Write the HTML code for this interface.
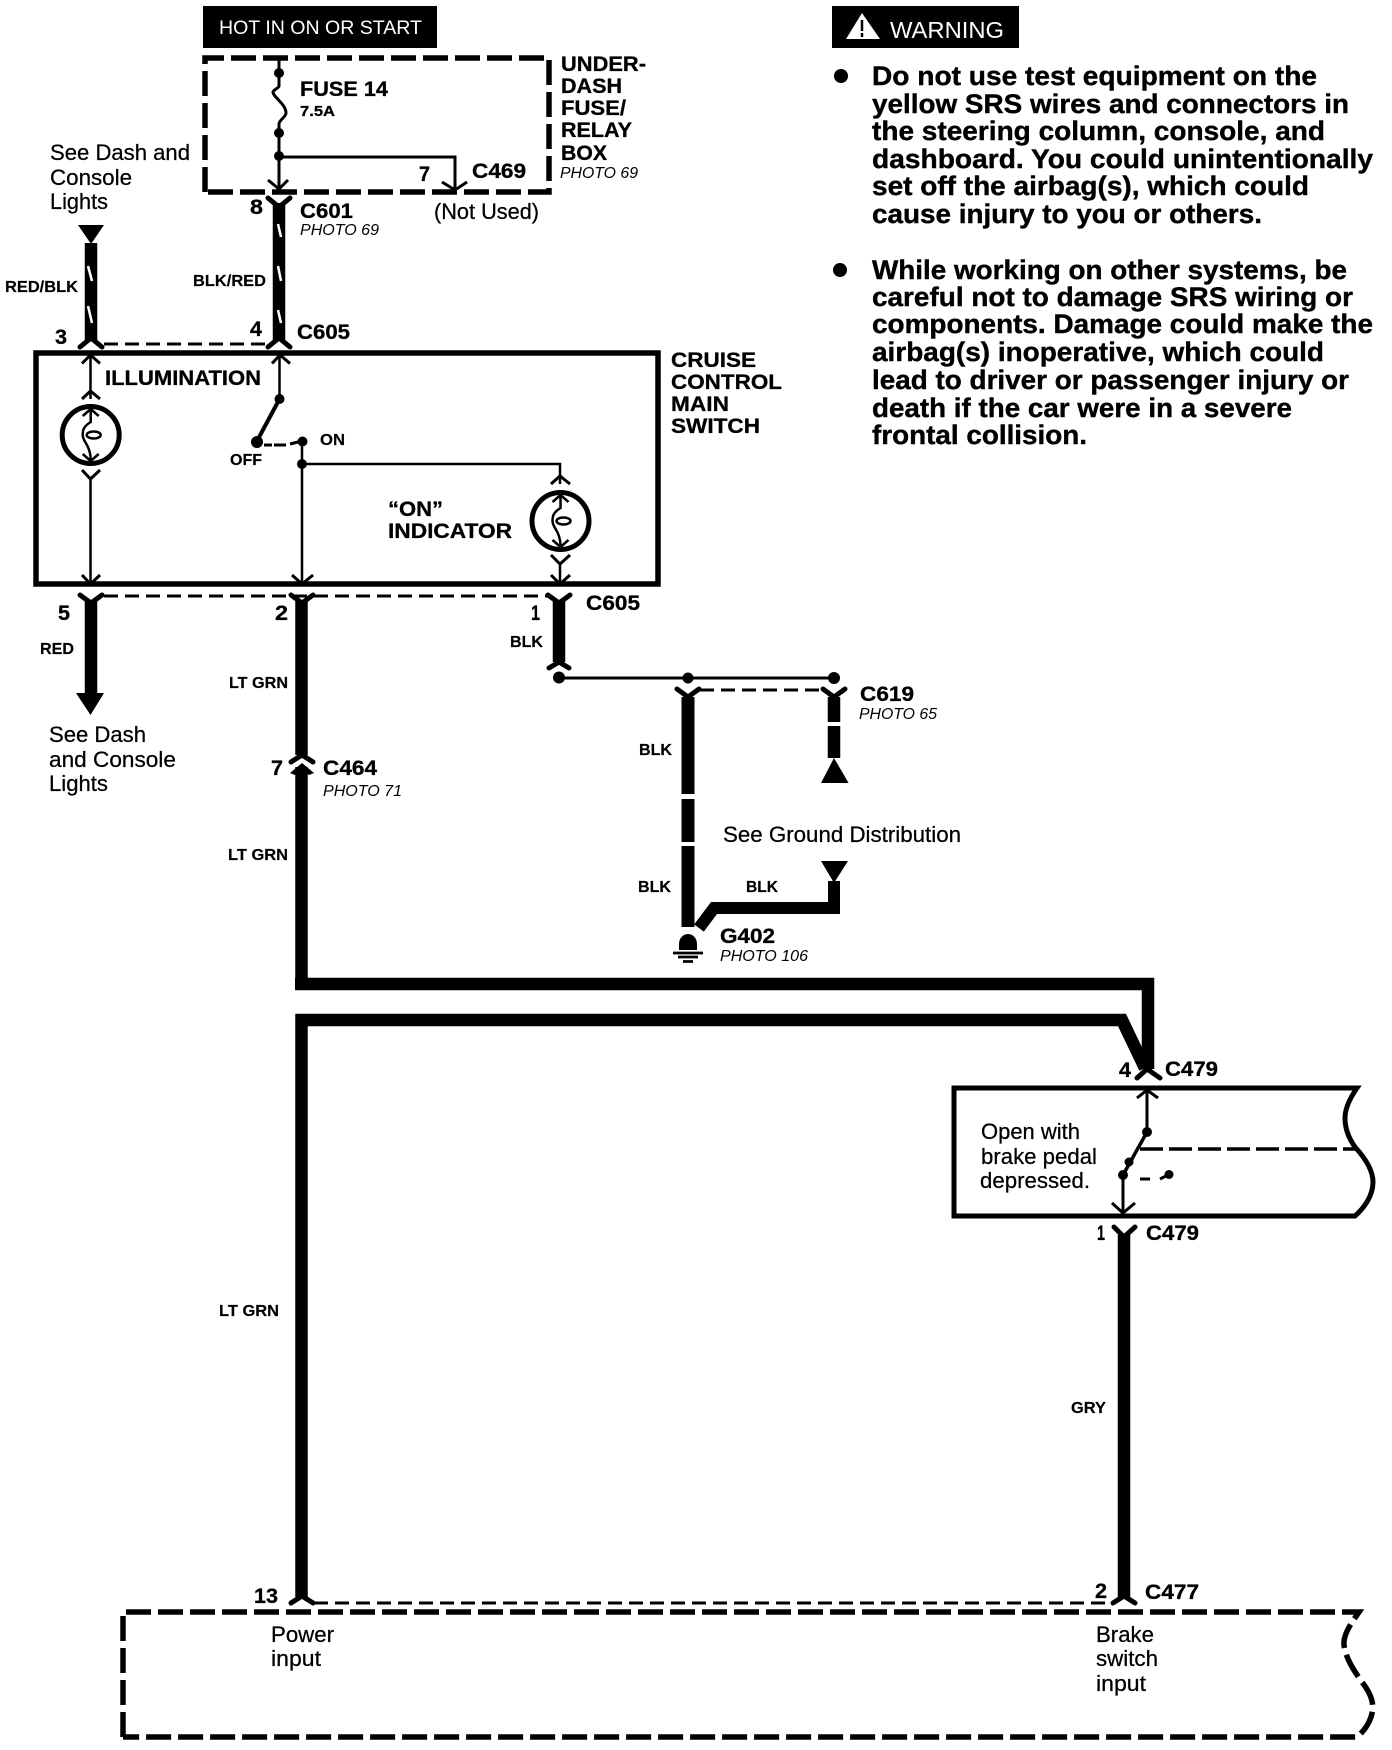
<!DOCTYPE html>
<html><head><meta charset="utf-8"><style>
html,body{margin:0;padding:0;background:#fff}
svg{display:block}
text{fill:#000;font-family:"Liberation Sans",sans-serif}
.b{font-weight:bold;font-size:21px;stroke:#000;stroke-width:.3px}
.w{font-weight:bold;font-size:16px;stroke:#000;stroke-width:.2px}
.t{font-weight:bold;font-size:27px;stroke:#000;stroke-width:.4px}
.r{font-size:22px;stroke:#000;stroke-width:.25px}
.i{font-style:italic;font-size:16px}
.c{fill:none;stroke:#000;stroke-width:3}
.y{fill:none;stroke:#000;stroke-width:5;stroke-linecap:round}
.n{fill:none;stroke:#000;stroke-width:2.5}
.h{fill:none;stroke:#000;stroke-width:12.5}
.s{stroke:#fff;stroke-width:2.5}
.d{fill:none;stroke:#000;stroke-width:5.5;stroke-dasharray:25 7}
.e{fill:none;stroke:#000;stroke-width:3;stroke-dasharray:14 7}
</style></head><body>
<svg xmlns="http://www.w3.org/2000/svg" width="1392" height="1750" viewBox="0 0 1392 1750">
<defs>
<g id="bulb">
<circle r="28.5" fill="#fff" stroke="#000" stroke-width="5"/>
<path class="n" d="M0 -26V-13C-8 -8 -8 -4 -8 0C-8 7 0 10 0 26"/>
<ellipse cx="3" cy="0" rx="7" ry="3.5" class="n"/>
<path class="n" d="M-8 -19L0 -26L8 -19M-8 19L0 26L8 19"/>
</g>
</defs>

<!-- header boxes -->
<rect x="203" y="6" width="234" height="42" fill="#000"/>
<text x="219" y="34" font-size="19" style="fill:#fff" textLength="203" lengthAdjust="spacingAndGlyphs">HOT IN ON OR START</text>
<rect x="832" y="6" width="187" height="42" fill="#000"/>
<path d="M862 13L846 39H880Z" fill="#fff"/>
<path d="M862 20V31M862 33V37" stroke="#000" stroke-width="2.5"/>
<text x="890" y="38" font-size="23" style="fill:#fff" textLength="114" lengthAdjust="spacingAndGlyphs">WARNING</text>

<!-- warning text -->
<circle cx="841" cy="76" r="7"/>
<circle cx="840" cy="270" r="7"/>
<text class="t" x="872" y="85" textLength="445" lengthAdjust="spacingAndGlyphs">Do not use test equipment on the</text>
<text class="t" x="872" y="113" textLength="477" lengthAdjust="spacingAndGlyphs">yellow SRS wires and connectors in</text>
<text class="t" x="872" y="140" textLength="453" lengthAdjust="spacingAndGlyphs">the steering column, console, and</text>
<text class="t" x="872" y="168" textLength="501" lengthAdjust="spacingAndGlyphs">dashboard. You could unintentionally</text>
<text class="t" x="872" y="195" textLength="437" lengthAdjust="spacingAndGlyphs">set off the airbag(s), which could</text>
<text class="t" x="872" y="223" textLength="390" lengthAdjust="spacingAndGlyphs">cause injury to you or others.</text>
<text class="t" x="872" y="279" textLength="475" lengthAdjust="spacingAndGlyphs">While working on other systems, be</text>
<text class="t" x="872" y="306" textLength="481" lengthAdjust="spacingAndGlyphs">careful not to damage SRS wiring or</text>
<text class="t" x="872" y="333" textLength="501" lengthAdjust="spacingAndGlyphs">components. Damage could make the</text>
<text class="t" x="872" y="361" textLength="452" lengthAdjust="spacingAndGlyphs">airbag(s) inoperative, which could</text>
<text class="t" x="872" y="389" textLength="477" lengthAdjust="spacingAndGlyphs">lead to driver or passenger injury or</text>
<text class="t" x="872" y="417" textLength="420" lengthAdjust="spacingAndGlyphs">death if the car were in a severe</text>
<text class="t" x="872" y="444" textLength="215" lengthAdjust="spacingAndGlyphs">frontal collision.</text>

<!-- under-dash fuse box -->
<path class="d" d="M205 192V58H549V192H205"/>
<path class="c" d="M279 57V73"/>
<path class="c" d="M279 73V86C279 88 273 90 273 92C273 97 286 104 286 113C286 117 279 120 279 124V187"/>
<circle cx="279" cy="73" r="5"/><circle cx="279" cy="133" r="5"/><circle cx="279" cy="156" r="5"/>
<path class="c" d="M279 157H455V188"/>
<path class="c" d="M268 180L279 189L288 180M442 182L455 190L467 182"/>
<text class="b" x="300" y="96" textLength="88" lengthAdjust="spacingAndGlyphs">FUSE 14</text>
<text class="b" x="300" y="116" style="font-size:15px" textLength="35" lengthAdjust="spacingAndGlyphs">7.5A</text>
<text class="b" x="561" y="71" textLength="85" lengthAdjust="spacingAndGlyphs">UNDER-</text>
<text class="b" x="561" y="93" textLength="61" lengthAdjust="spacingAndGlyphs">DASH</text>
<text class="b" x="561" y="115" textLength="65" lengthAdjust="spacingAndGlyphs">FUSE/</text>
<text class="b" x="561" y="137" textLength="71" lengthAdjust="spacingAndGlyphs">RELAY</text>
<text class="b" x="561" y="160" textLength="46" lengthAdjust="spacingAndGlyphs">BOX</text>
<text class="i" x="560" y="178" textLength="78" lengthAdjust="spacingAndGlyphs">PHOTO 69</text>
<text class="b" x="472" y="178" textLength="54" lengthAdjust="spacingAndGlyphs">C469</text>
<text class="b" x="419" y="181" textLength="11" lengthAdjust="spacingAndGlyphs">7</text>
<text class="r" x="434" y="219" textLength="105" lengthAdjust="spacingAndGlyphs">(Not Used)</text>
<text class="b" x="250" y="214" textLength="13" lengthAdjust="spacingAndGlyphs">8</text>
<text class="b" x="300" y="218" textLength="53" lengthAdjust="spacingAndGlyphs">C601</text>
<text class="i" x="300" y="235" textLength="79" lengthAdjust="spacingAndGlyphs">PHOTO 69</text>
<text class="r" x="50" y="160" textLength="140" lengthAdjust="spacingAndGlyphs">See Dash and</text>
<text class="r" x="50" y="185" textLength="82" lengthAdjust="spacingAndGlyphs">Console</text>
<text class="r" x="50" y="209" textLength="58" lengthAdjust="spacingAndGlyphs">Lights</text>

<!-- upper connector wires -->
<path d="M78 225H104L91 244Z"/>
<path class="h" d="M91 243V341"/>
<path class="s" d="M88 266L92 281M88 306L92 323"/>
<path class="h" d="M279 203V341"/>
<path class="y" d="M268 198L279 207L290 198"/>
<path class="s" d="M278 224L281 237M278 266L281 281M278 310L281 323"/>
<path class="y" d="M80 347L91 338L102 347M268 347L279 338L290 347"/>
<path class="e" d="M104 344H268"/>
<text class="w" x="5" y="292" textLength="73" lengthAdjust="spacingAndGlyphs">RED/BLK</text>
<text class="w" x="193" y="286" textLength="73" lengthAdjust="spacingAndGlyphs">BLK/RED</text>
<text class="b" x="55" y="344" textLength="12" lengthAdjust="spacingAndGlyphs">3</text>
<text class="b" x="250" y="336" textLength="12" lengthAdjust="spacingAndGlyphs">4</text>
<text class="b" x="297" y="339" textLength="53" lengthAdjust="spacingAndGlyphs">C605</text>

<!-- main switch box -->
<rect x="36" y="353" width="622" height="231" fill="none" stroke="#000" stroke-width="5.5"/>
<path class="n" d="M90.5 356V399M90.5 479V583"/>
<path class="c" d="M82 363.5L90.5 355L100 363.5M82 399L90.5 391L100 399M82 470L90.5 479L100 470M82 575L90.5 584L100 575"/>
<use href="#bulb" x="90.7" y="435"/>
<path class="n" d="M279.5 356V399"/>
<path class="c" d="M272 363.5L280 355L290 363.5"/>
<circle cx="279.5" cy="399" r="5"/>
<path d="M279.5 399L257 441" stroke="#000" stroke-width="4"/>
<circle cx="257" cy="442" r="6"/>
<path d="M264 445L272 445M274 445H286M290 444L302 441" fill="none" stroke="#000" stroke-width="3"/>
<circle cx="302.5" cy="441.5" r="5"/>
<path class="n" d="M302 441V583"/>
<circle cx="302" cy="464" r="5"/>
<path class="n" d="M302 464H560V484"/>
<path class="c" d="M551 484L560 476L570 484M551 555L560 564L570 555M551 575L560 584L570 575"/>
<path class="n" d="M560 564V583"/>
<path class="c" d="M292 575L302 584L313 575"/>
<use href="#bulb" x="560.5" y="521"/>
<text class="b" x="105" y="385" textLength="156" lengthAdjust="spacingAndGlyphs">ILLUMINATION</text>
<text class="w" x="320" y="445" textLength="25" lengthAdjust="spacingAndGlyphs">ON</text>
<text class="w" x="230" y="465" textLength="32" lengthAdjust="spacingAndGlyphs">OFF</text>
<text class="b" x="388" y="516" textLength="55" lengthAdjust="spacingAndGlyphs">“ON”</text>
<text class="b" x="388" y="538" textLength="124" lengthAdjust="spacingAndGlyphs">INDICATOR</text>
<text class="b" x="671" y="367" textLength="85" lengthAdjust="spacingAndGlyphs">CRUISE</text>
<text class="b" x="671" y="389" textLength="111" lengthAdjust="spacingAndGlyphs">CONTROL</text>
<text class="b" x="671" y="411" textLength="58" lengthAdjust="spacingAndGlyphs">MAIN</text>
<text class="b" x="671" y="433" textLength="89" lengthAdjust="spacingAndGlyphs">SWITCH</text>

<!-- below switch box -->
<path class="e" d="M104 596H549"/>
<path class="y" d="M80 595L91 603L102 595M291 595L302 603L313 595M548 595L559 603L570 595"/>
<path class="h" d="M91 601V695"/>
<path d="M76 693H104L90.5 715Z"/>
<path class="h" d="M301.5 601V755"/>
<path class="h" d="M559 601V662"/>
<path class="y" d="M549 668L559 662L569 668M291 762L302 755L313 762"/>
<path d="M290 773L302 763L314 773L309 775L302 770L295 775Z"/>
<path class="h" d="M301.5 767V984M295 984H1148V1069"/>
<path class="h" d="M301.5 1597V1020H1122L1145 1068"/>
<text class="b" x="58" y="620" textLength="12" lengthAdjust="spacingAndGlyphs">5</text>
<text class="b" x="275" y="620" textLength="13" lengthAdjust="spacingAndGlyphs">2</text>
<text class="b" x="531" y="620" textLength="9" lengthAdjust="spacingAndGlyphs">1</text>
<text class="b" x="586" y="610" textLength="54" lengthAdjust="spacingAndGlyphs">C605</text>
<text class="w" x="40" y="654" textLength="34" lengthAdjust="spacingAndGlyphs">RED</text>
<text class="w" x="510" y="647" textLength="33" lengthAdjust="spacingAndGlyphs">BLK</text>
<text class="w" x="229" y="688" textLength="59" lengthAdjust="spacingAndGlyphs">LT GRN</text>
<text class="b" x="271" y="775" textLength="12" lengthAdjust="spacingAndGlyphs">7</text>
<text class="b" x="323" y="775" textLength="54" lengthAdjust="spacingAndGlyphs">C464</text>
<text class="i" x="323" y="796" textLength="79" lengthAdjust="spacingAndGlyphs">PHOTO 71</text>
<text class="w" x="228" y="860" textLength="60" lengthAdjust="spacingAndGlyphs">LT GRN</text>
<text class="w" x="219" y="1316" textLength="60" lengthAdjust="spacingAndGlyphs">LT GRN</text>
<text class="r" x="49" y="742" textLength="97" lengthAdjust="spacingAndGlyphs">See Dash</text>
<text class="r" x="49" y="767" textLength="127" lengthAdjust="spacingAndGlyphs">and Console</text>
<text class="r" x="49" y="791" textLength="59" lengthAdjust="spacingAndGlyphs">Lights</text>

<!-- ground branch -->
<circle cx="559" cy="677.5" r="6"/>
<path d="M559 678H834" stroke="#000" stroke-width="3"/>
<circle cx="688" cy="678" r="5.5"/><circle cx="834" cy="678" r="6"/>
<path class="y" d="M677 689L688 697L699 689M823 689L834 697L845 689"/>
<path class="e" d="M700 690H823"/>
<path d="M688 697V794M688 799V842M688 846V927" fill="none" stroke="#000" stroke-width="13"/>
<path d="M834 697V722M834 726V758" fill="none" stroke="#000" stroke-width="12.5"/>
<path d="M834 758L821 783H848.6Z"/>
<path d="M821 861H848L834 883Z"/>
<path d="M834 881V908H714L699 928" fill="none" stroke="#000" stroke-width="12"/>
<path d="M679 950V944A9 10 0 0 1 697 944V950Z"/>
<path d="M673 953H703M678 957H698M683 961.5H693" stroke="#000" stroke-width="2.8"/>
<text class="b" x="860" y="701" textLength="54" lengthAdjust="spacingAndGlyphs">C619</text>
<text class="i" x="859" y="719" textLength="78" lengthAdjust="spacingAndGlyphs">PHOTO 65</text>
<text class="r" x="723" y="842" textLength="238" lengthAdjust="spacingAndGlyphs">See Ground Distribution</text>
<text class="w" x="639" y="755" textLength="33" lengthAdjust="spacingAndGlyphs">BLK</text>
<text class="w" x="638" y="892" textLength="33" lengthAdjust="spacingAndGlyphs">BLK</text>
<text class="w" x="746" y="892" textLength="32" lengthAdjust="spacingAndGlyphs">BLK</text>
<text class="b" x="720" y="943" textLength="55" lengthAdjust="spacingAndGlyphs">G402</text>
<text class="i" x="720" y="961" textLength="88" lengthAdjust="spacingAndGlyphs">PHOTO 106</text>

<!-- brake switch -->
<path class="y" d="M1137 1078L1147 1069L1160 1078"/>
<text class="b" x="1119" y="1077" textLength="12" lengthAdjust="spacingAndGlyphs">4</text>
<text class="b" x="1165" y="1076" textLength="53" lengthAdjust="spacingAndGlyphs">C479</text>
<path d="M954 1088H1357C1350 1098 1345 1108 1345 1118C1345 1130 1350 1140 1355 1147C1365 1158 1373 1170 1373 1182C1373 1196 1364 1208 1355 1216H954Z" fill="none" stroke="#000" stroke-width="5"/>
<path class="n" d="M1147 1090V1132" style="stroke-width:3"/>
<path class="c" d="M1137 1098L1147 1090L1158 1098"/>
<circle cx="1147" cy="1132" r="5"/>
<path d="M1147 1132L1123 1175" stroke="#000" stroke-width="3.5"/>
<circle cx="1129" cy="1162" r="4.5"/><circle cx="1123" cy="1175" r="5"/>
<path class="n" d="M1123 1175V1213" style="stroke-width:3"/>
<path class="c" d="M1112 1203L1123 1213L1135 1203"/>
<path d="M1140 1179H1150M1160 1179L1168 1175" fill="none" stroke="#000" stroke-width="3"/>
<circle cx="1169" cy="1174.5" r="4.5"/>
<path d="M1140 1149H1355" fill="none" stroke="#000" stroke-width="3.5" stroke-dasharray="23 6"/>
<text class="r" x="981" y="1139" textLength="99" lengthAdjust="spacingAndGlyphs">Open with</text>
<text class="r" x="981" y="1164" textLength="116" lengthAdjust="spacingAndGlyphs">brake pedal</text>
<text class="r" x="980" y="1188" textLength="110" lengthAdjust="spacingAndGlyphs">depressed.</text>
<path class="y" d="M1114 1227L1124 1237L1135 1227"/>
<path class="h" d="M1124 1235V1597"/>
<text class="b" x="1097" y="1240" textLength="8" lengthAdjust="spacingAndGlyphs">1</text>
<text class="b" x="1146" y="1240" textLength="53" lengthAdjust="spacingAndGlyphs">C479</text>
<text class="w" x="1071" y="1413" textLength="35" lengthAdjust="spacingAndGlyphs">GRY</text>

<!-- bottom module -->
<path class="y" d="M291 1603L302 1596L313 1603M1113 1603L1124 1596L1135 1603"/>
<path class="e" d="M314 1603H1112"/>
<text class="b" x="254" y="1603" textLength="24" lengthAdjust="spacingAndGlyphs">13</text>
<text class="b" x="1095" y="1598" textLength="12" lengthAdjust="spacingAndGlyphs">2</text>
<text class="b" x="1145" y="1599" textLength="54" lengthAdjust="spacingAndGlyphs">C477</text>
<path class="d" d="M123 1737V1612H1359C1350 1625 1343 1635 1344 1645C1346 1660 1355 1672 1362 1682C1372 1695 1375 1705 1371 1717C1368 1726 1362 1733 1357 1737H123"/>
<text class="r" x="271" y="1642" textLength="63" lengthAdjust="spacingAndGlyphs">Power</text>
<text class="r" x="271" y="1666" textLength="50" lengthAdjust="spacingAndGlyphs">input</text>
<text class="r" x="1096" y="1642" textLength="58" lengthAdjust="spacingAndGlyphs">Brake</text>
<text class="r" x="1096" y="1666" textLength="62" lengthAdjust="spacingAndGlyphs">switch</text>
<text class="r" x="1096" y="1691" textLength="50" lengthAdjust="spacingAndGlyphs">input</text>
</svg>
</body></html>
